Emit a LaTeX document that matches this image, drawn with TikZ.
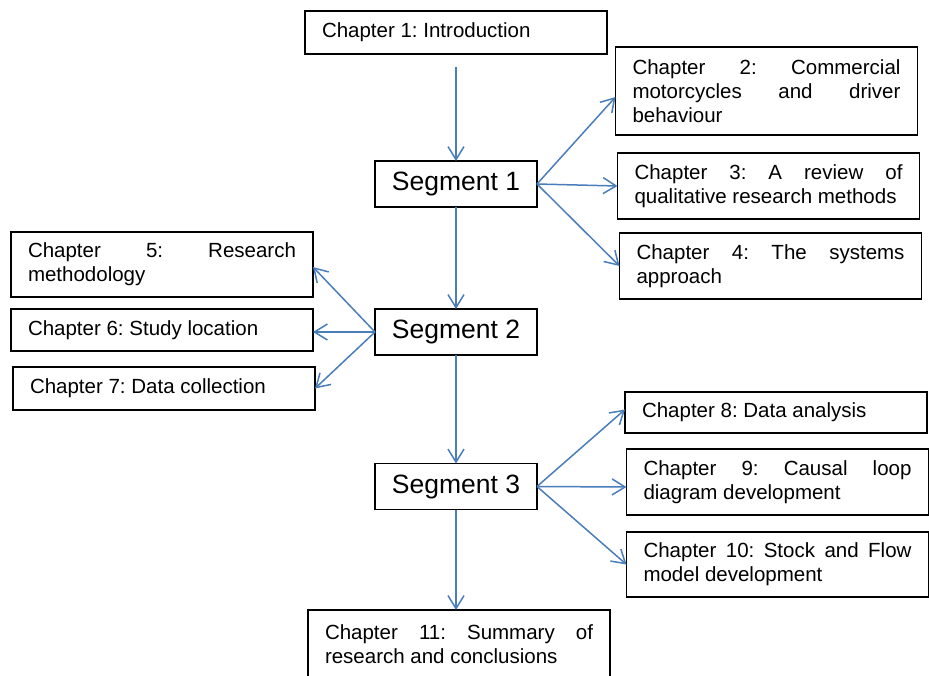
\documentclass[tikz,border=0pt]{standalone}
\usepackage{fontspec}
\setmainfont{Liberation Sans}
\usetikzlibrary{arrows.meta}
\definecolor{linkblue}{RGB}{74,126,187}
\begin{document}
\hyphenpenalty=10000
\exhyphenpenalty=10000
\frenchspacing
\begin{tikzpicture}[x=1pt,y=-1pt,
  box/.style={draw=black, line width=1.3pt, fill=white, inner ysep=0pt, outer sep=0pt},
  chap/.style={box, text width=268pt, inner xsep=17pt, align=justify,
    minimum height=#1, font=\fontsize{20.5}{24}\selectfont},
  seg/.style={box, minimum width=162pt, minimum height=46pt, inner xsep=0pt,
    font=\fontsize{26.5}{30}\selectfont},
  link/.style={draw=linkblue, line width=1.5pt,
    -{Straight Barb[length=13pt, width=16pt]}}
]
\useasboundingbox (0,0) rectangle (929,675);
\clip (0,0) rectangle (929,675);

% segments (central column)
\node[seg] (s1) at (456,184)   {Segment 1};
\node[seg] (s2) at (456,332)   {Segment 2};
\node[seg] (s3) at (456,486.5) {Segment 3};

% chapters
\node[chap=43pt] (c1)  at (456,32.5)   {Chapter 1: Introduction};
\node[chap=88pt] (c2)  at (766.5,91)   {Chapter 2: Commercial\linebreak motorcycles and driver\linebreak behaviour};
\node[chap=66pt] (c3)  at (768.5,186)  {Chapter 3: A review of\linebreak qualitative research methods};
\node[chap=66pt] (c4)  at (770.5,266)  {Chapter 4: The systems\linebreak approach};
\node[chap=65pt] (c5)  at (162,264.5)  {Chapter 5: Research\linebreak methodology};
\node[chap=42pt] (c6)  at (162,330)    {Chapter 6: Study location};
\node[chap=43pt] (c7)  at (164,388.5)  {Chapter 7: Data collection};
\node[chap=41pt] (c8)  at (776,412.5)  {Chapter 8: Data analysis};
\node[chap=66pt] (c9)  at (777.5,482)  {Chapter 9: Causal loop\linebreak diagram development};
\node[chap=65pt] (c10) at (777.5,564.5){Chapter 10: Stock and Flow\linebreak model development};
\node[chap=68pt] (c11) at (459,644)    {Chapter 11: Summary of\linebreak research and conclusions};

% main flow
\draw[link, shorten <=13pt] (c1.south) -- (c1.south |- s1.north);
\draw[link] (s1.south) -- (s2.north);
\draw[link] (s2.south) -- (s3.north);
\draw[link] (s3.south) -- (s3.south |- c11.north);

% segment 1 branches
\draw[link] (s1.east) -- ([yshift=-6pt]c2.west);
\draw[link] (s1.east) -- (c3.west);
\draw[link] (s1.east) -- (c4.west);

% segment 2 branches
\draw[link] (s2.west) -- ([yshift=-2.5pt]c5.east);
\draw[link] (s2.west) -- ([yshift=-2pt]c6.east);
\draw[link] (s2.west) -- (c7.east);

% segment 3 branches
\draw[link] (s3.east) -- ([yshift=3pt]c8.west);
\draw[link] (s3.east) -- ([yshift=-5pt]c9.west);
\draw[link] (s3.east) -- (c10.west);
\end{tikzpicture}
\end{document}
